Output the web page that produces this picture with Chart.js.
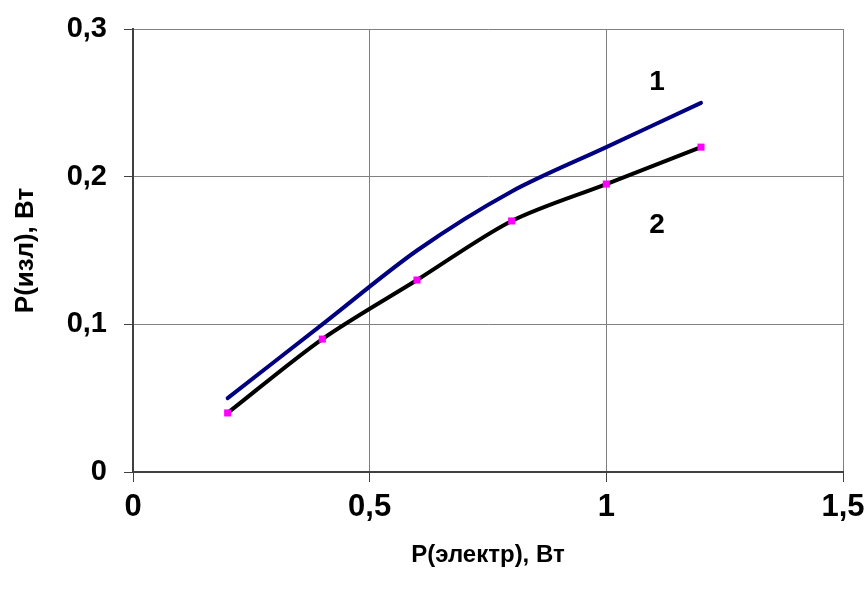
<!DOCTYPE html>
<html>
<head>
<meta charset="utf-8">
<script src="https://cdn.jsdelivr.net/npm/chart.js@4.4.1/dist/chart.umd.min.js"></script>
<style>
  html, body { margin: 0; padding: 0; background: #fff; }
  #wrap { width: 868px; height: 597px; }
</style>
</head>
<body>
<div id="wrap"><canvas id="c" width="868" height="597"></canvas></div>
<script>
// Electrical input power, W
const pElectr = [0.2, 0.4, 0.6, 0.8, 1.0, 1.2];
// Radiated power, W — curve 1 and curve 2
const pIzl1 = [0.05, 0.10, 0.15, 0.19, 0.22, 0.25];
const pIzl2 = [0.04, 0.09, 0.13, 0.17, 0.195, 0.22];
// Axis ticks
const xTicks = [0, 0.5, 1, 1.5];
const yTicks = [0, 0.1, 0.2, 0.3];
// Curve numbers and where they sit (data units)
const curveLabels = ['1', '2'];
const curveLabelX = [1.107, 1.107];
const curveLabelY = [0.264, 0.167];

const FONT = '"Liberation Sans", Arial, sans-serif';
const comma = v => String(Math.round(v * 10) / 10).replace('.', ',');

const toPoints = ys => pElectr.map((x, i) => ({ x, y: ys[i] }));

const curveLabelPlugin = {
  id: 'curveLabels',
  afterDatasetsDraw(chart) {
    const { ctx, scales } = chart;
    ctx.save();
    ctx.font = 'bold 28px ' + FONT;
    ctx.fillStyle = '#000';
    ctx.textAlign = 'center';
    ctx.textBaseline = 'middle';
    curveLabels.forEach((t, i) => {
      ctx.fillText(t, scales.x.getPixelForValue(curveLabelX[i]), scales.y.getPixelForValue(curveLabelY[i]));
    });
    ctx.restore();
  }
};

new Chart(document.getElementById('c'), {
  type: 'line',
  data: {
    datasets: [
      {
        data: toPoints(pIzl1),
        borderColor: '#000080',
        borderWidth: 4,
        borderCapStyle: 'round',
        pointRadius: 0,
        tension: 0.3,
        fill: false
      },
      {
        data: toPoints(pIzl2),
        borderColor: '#000000',
        borderWidth: 4,
        pointStyle: 'rect',
        pointRadius: 5,
        pointBorderWidth: 0,
        pointBackgroundColor: '#FF00FF',
        pointBorderColor: '#FF00FF',
        tension: 0.3,
        fill: false
      }
    ]
  },
  options: {
    responsive: false,
    animation: false,
    layout: { padding: { left: 0, right: 25, top: 29, bottom: 0 } },
    plugins: { legend: { display: false }, tooltip: { enabled: false } },
    scales: {
      x: {
        type: 'linear',
        min: 0, max: 1.5,
        afterBuildTicks: s => { s.ticks = xTicks.map(v => ({ value: v })); },
        afterFit: s => { s.height = 125; s.paddingLeft = 0; s.paddingRight = 0; },
        grid: { color: '#808080', lineWidth: 1, tickLength: 10, tickColor: '#404040' },
        border: { color: '#404040', width: 2 },
        ticks: {
          color: '#000', padding: 7,
          font: { family: FONT, size: 31, weight: 'bold' },
          maxRotation: 0,
          callback: v => comma(v)
        },
        title: {
          display: true, text: 'Р(электр), Вт', color: '#000',
          font: { family: FONT, size: 24, weight: 'bold' },
          padding: { top: 0, bottom: 27 }
        }
      },
      y: {
        min: 0, max: 0.3,
        afterBuildTicks: s => { s.ticks = yTicks.map(v => ({ value: v })); },
        afterFit: s => { s.width = 133; s.paddingTop = 0; s.paddingBottom = 0; },
        grid: { color: '#808080', lineWidth: 1, tickLength: 9, tickColor: '#404040' },
        border: { color: '#404040', width: 2 },
        ticks: {
          color: '#000', padding: 17,
          font: { family: FONT, size: 29, weight: 'bold' },
          callback: v => comma(v)
        },
        title: {
          display: true, text: 'Р(изл), Вт', color: '#000',
          font: { family: FONT, size: 26, weight: 'bold' },
          padding: { top: 10, bottom: 0 }
        }
      }
    }
  },
  plugins: [curveLabelPlugin]
});
</script>
</body>
</html>
